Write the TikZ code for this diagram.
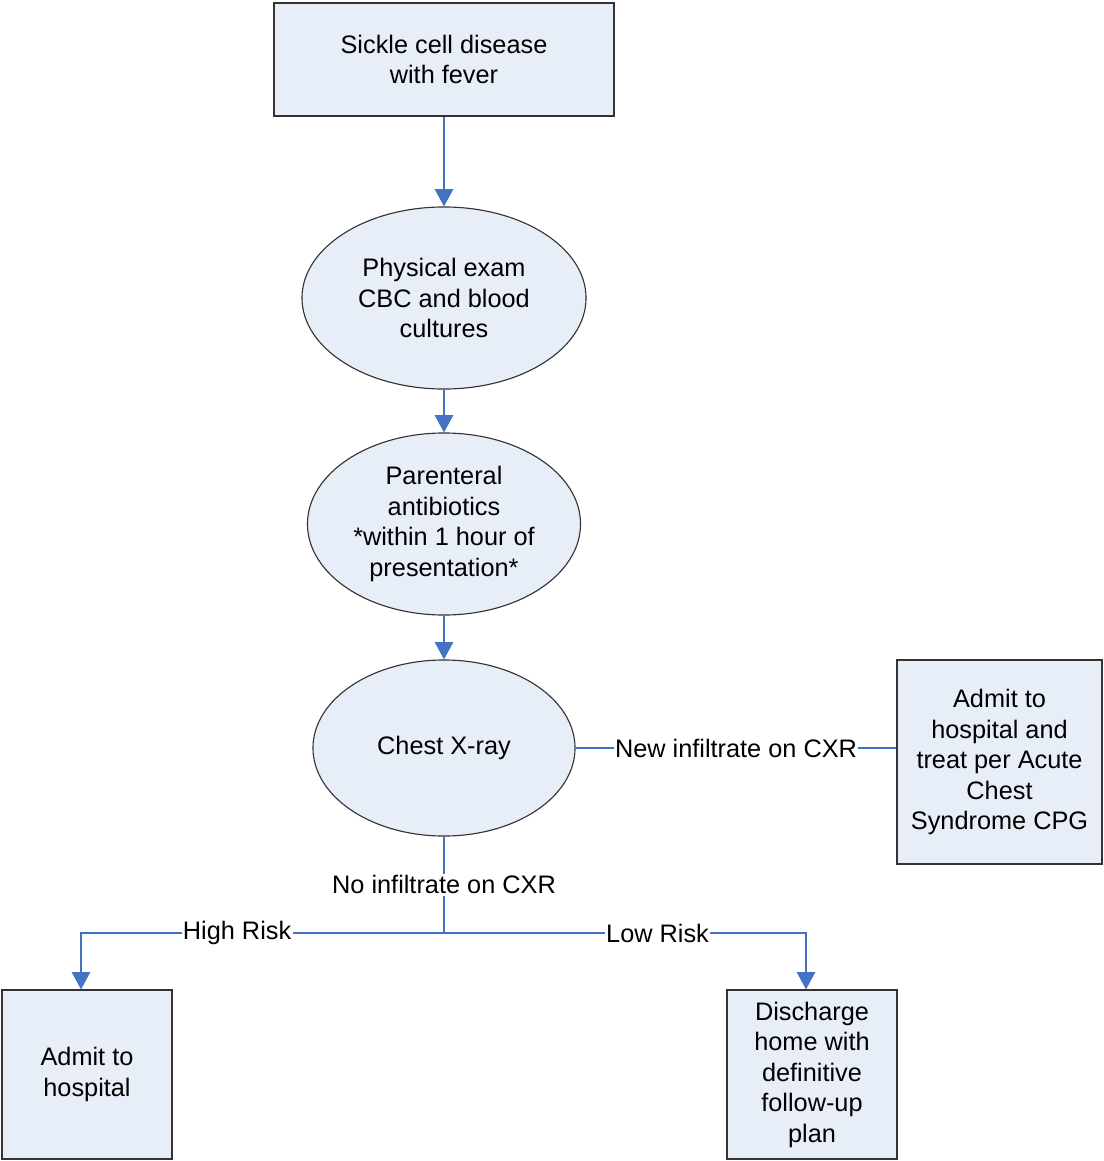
\documentclass[tikz,border=0pt]{standalone}
\usepackage{fontspec}
\setmainfont{Liberation Sans}
\usetikzlibrary{shapes.geometric,arrows.meta}
\definecolor{linkblue}{RGB}{68,114,196}
\definecolor{boxfill}{RGB}{232,238,247}

\begin{document}
\begin{tikzpicture}[x=0.025cm, y=-0.025cm,
  every node/.style={font=\fontsize{18}{21.7}\selectfont, align=center},
  box/.style={draw=black!80, fill=boxfill, line width=0.8pt, inner sep=0pt},
  blob/.style={ellipse, draw=black!80, fill=boxfill, line width=0.8pt, inner sep=0pt},
  link/.style={draw=linkblue, line width=0.8pt},
  arrow/.style={link, -{Triangle[width=0.46cm, length=0.43cm]}},
  lbl/.style={fill=white, inner sep=1pt}]
  \useasboundingbox (0,0) rectangle (1103,1161);
  % Main column
  \node[box, minimum width=8.5cm, minimum height=2.825cm] (fever) at (444,59.5)
    {Sickle cell disease\\with fever};
  \node[blob, minimum width=7.1cm, minimum height=4.55cm] (exam) at (444,298)
    {Physical exam\\CBC and blood\\cultures};
  \node[blob, minimum width=6.825cm, minimum height=4.55cm] (abx) at (444,524)
    {Parenteral\\antibiotics\\*within 1 hour of\\presentation*};
  \node[blob, minimum width=6.55cm, minimum height=4.4cm] (cxr) at (444,748)
    {Chest X-ray};
  % Outcomes
  \node[box, minimum width=5.125cm, minimum height=5.1cm] (acs) at (999.5,762)
    {Admit to\\hospital and\\treat per Acute\\Chest\\Syndrome CPG};
  \node[box, minimum width=4.25cm, minimum height=4.225cm] (admit) at (87,1074.5)
    {Admit to\\hospital};
  \node[box, minimum width=4.25cm, minimum height=4.225cm] (home) at (812,1074.5)
    {Discharge\\home with\\definitive\\follow-up\\plan};
  % Connectors
  \draw[arrow] (fever) -- (exam);
  \draw[arrow] (exam) -- (abx);
  \draw[arrow] (abx) -- (cxr);
  \draw[link] (cxr.east) -- node[lbl] {New infiltrate on CXR} (cxr.east -| acs.west);
  \coordinate (split) at (444,933);
  \coordinate (admitin) at ([xshift=-0.15cm]admit.north);
  \coordinate (homein) at ([xshift=-0.15cm]home.north);
  \draw[link] (cxr.south) -- node[lbl] {No infiltrate on CXR} (split);
  \draw[arrow] (split) -- node[lbl, pos=0.57] {High Risk} (split -| admitin) -- (admitin);
  \draw[arrow] (split) -- node[lbl, pos=0.59] {Low Risk} (split -| homein) -- (homein);
\end{tikzpicture}
\end{document}
